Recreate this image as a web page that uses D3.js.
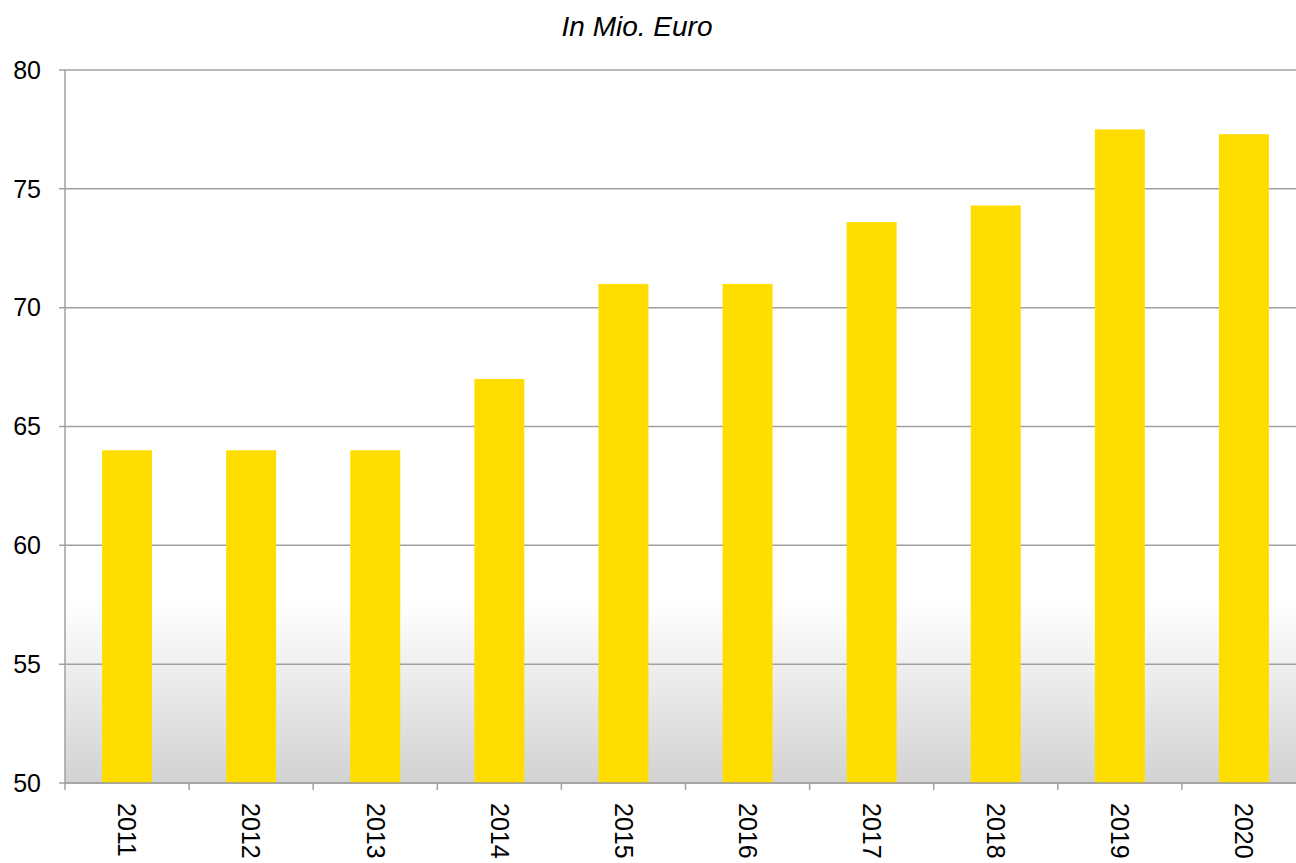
<!DOCTYPE html>
<html><head><meta charset="utf-8">
<script src="https://cdn.jsdelivr.net/npm/d3@7"></script>
<style>body{margin:0;background:#fff;overflow:hidden}text{font-family:"Liberation Sans",Arial,sans-serif}</style>
</head><body><svg id="c" width="1296" height="863"></svg>
<script>
const years = ["2011","2012","2013","2014","2015","2016","2017","2018","2019","2020"];
const values = [64, 64, 64, 67, 71, 71, 73.6, 74.3, 77.5, 77.3];
const yTicks = [50, 55, 60, 65, 70, 75, 80];
const title = "In Mio. Euro";

(function(){
const svg = d3.select("#c");
const mL = 65, mR = 1306, mT = 70, mB = 783;
const x = d3.scaleBand().domain(years).range([mL, mR]).paddingInner(0).paddingOuter(0);
const y = d3.scaleLinear().domain([50, 80]).range([mB, mT]);

const defs = svg.append("defs");
const g = defs.append("linearGradient").attr("id","bg").attr("x1",0).attr("y1",0).attr("x2",0).attr("y2",1);
g.append("stop").attr("offset","0%").attr("stop-color","#ffffff");
g.append("stop").attr("offset","100%").attr("stop-color","#d2d2d2");
svg.append("rect").attr("x", mL).attr("y", 602).attr("width", mR-mL).attr("height", mB-602).attr("fill","url(#bg)");

svg.append("g").selectAll("line").data(yTicks).join("line")
  .attr("x1", mL-6).attr("x2", mR).attr("y1", d=>y(d)).attr("y2", d=>y(d))
  .attr("stroke", "#a0a0a0").attr("stroke-width", 1.5);

const bw = 50;
svg.append("g").selectAll("rect").data(years).join("rect")
  .attr("x", (d)=>x(d)+x.bandwidth()/2-bw/2)
  .attr("y", (d,i)=>y(values[i]))
  .attr("width", bw)
  .attr("height", (d,i)=>mB-y(values[i]))
  .attr("fill", "#ffdd00");

svg.append("line").attr("x1", mL).attr("x2", mL).attr("y1", mT).attr("y2", mB+7)
  .attr("stroke","#a0a0a0").attr("stroke-width",1.5);
svg.append("line").attr("x1", mL).attr("x2", mR).attr("y1", mB).attr("y2", mB)
  .attr("stroke","#a0a0a0").attr("stroke-width",1.5);
svg.append("g").selectAll("line").data(years.slice(1)).join("line")
  .attr("x1", d=>x(d)).attr("x2", d=>x(d)).attr("y1", mB).attr("y2", mB+7)
  .attr("stroke","#a0a0a0").attr("stroke-width",1.5);

svg.append("g").selectAll("text").data(yTicks).join("text")
  .attr("x", 41).attr("y", d=>y(d)).attr("dy","0.35em")
  .attr("text-anchor","end").attr("font-size", 25).attr("fill","#000").text(d=>d);

svg.append("g").selectAll("text").data(years).join("text")
  .attr("transform", d=>`translate(${x(d)+x.bandwidth()/2},803) rotate(90)`)
  .attr("dy","0.35em").attr("text-anchor","start").attr("font-size", 25).attr("fill","#000").text(d=>d);

svg.append("text").attr("x", 637).attr("y", 36).attr("text-anchor","middle")
  .attr("font-size", 28).attr("font-style","italic").attr("fill","#000").text(title);
})();
</script></body></html>
